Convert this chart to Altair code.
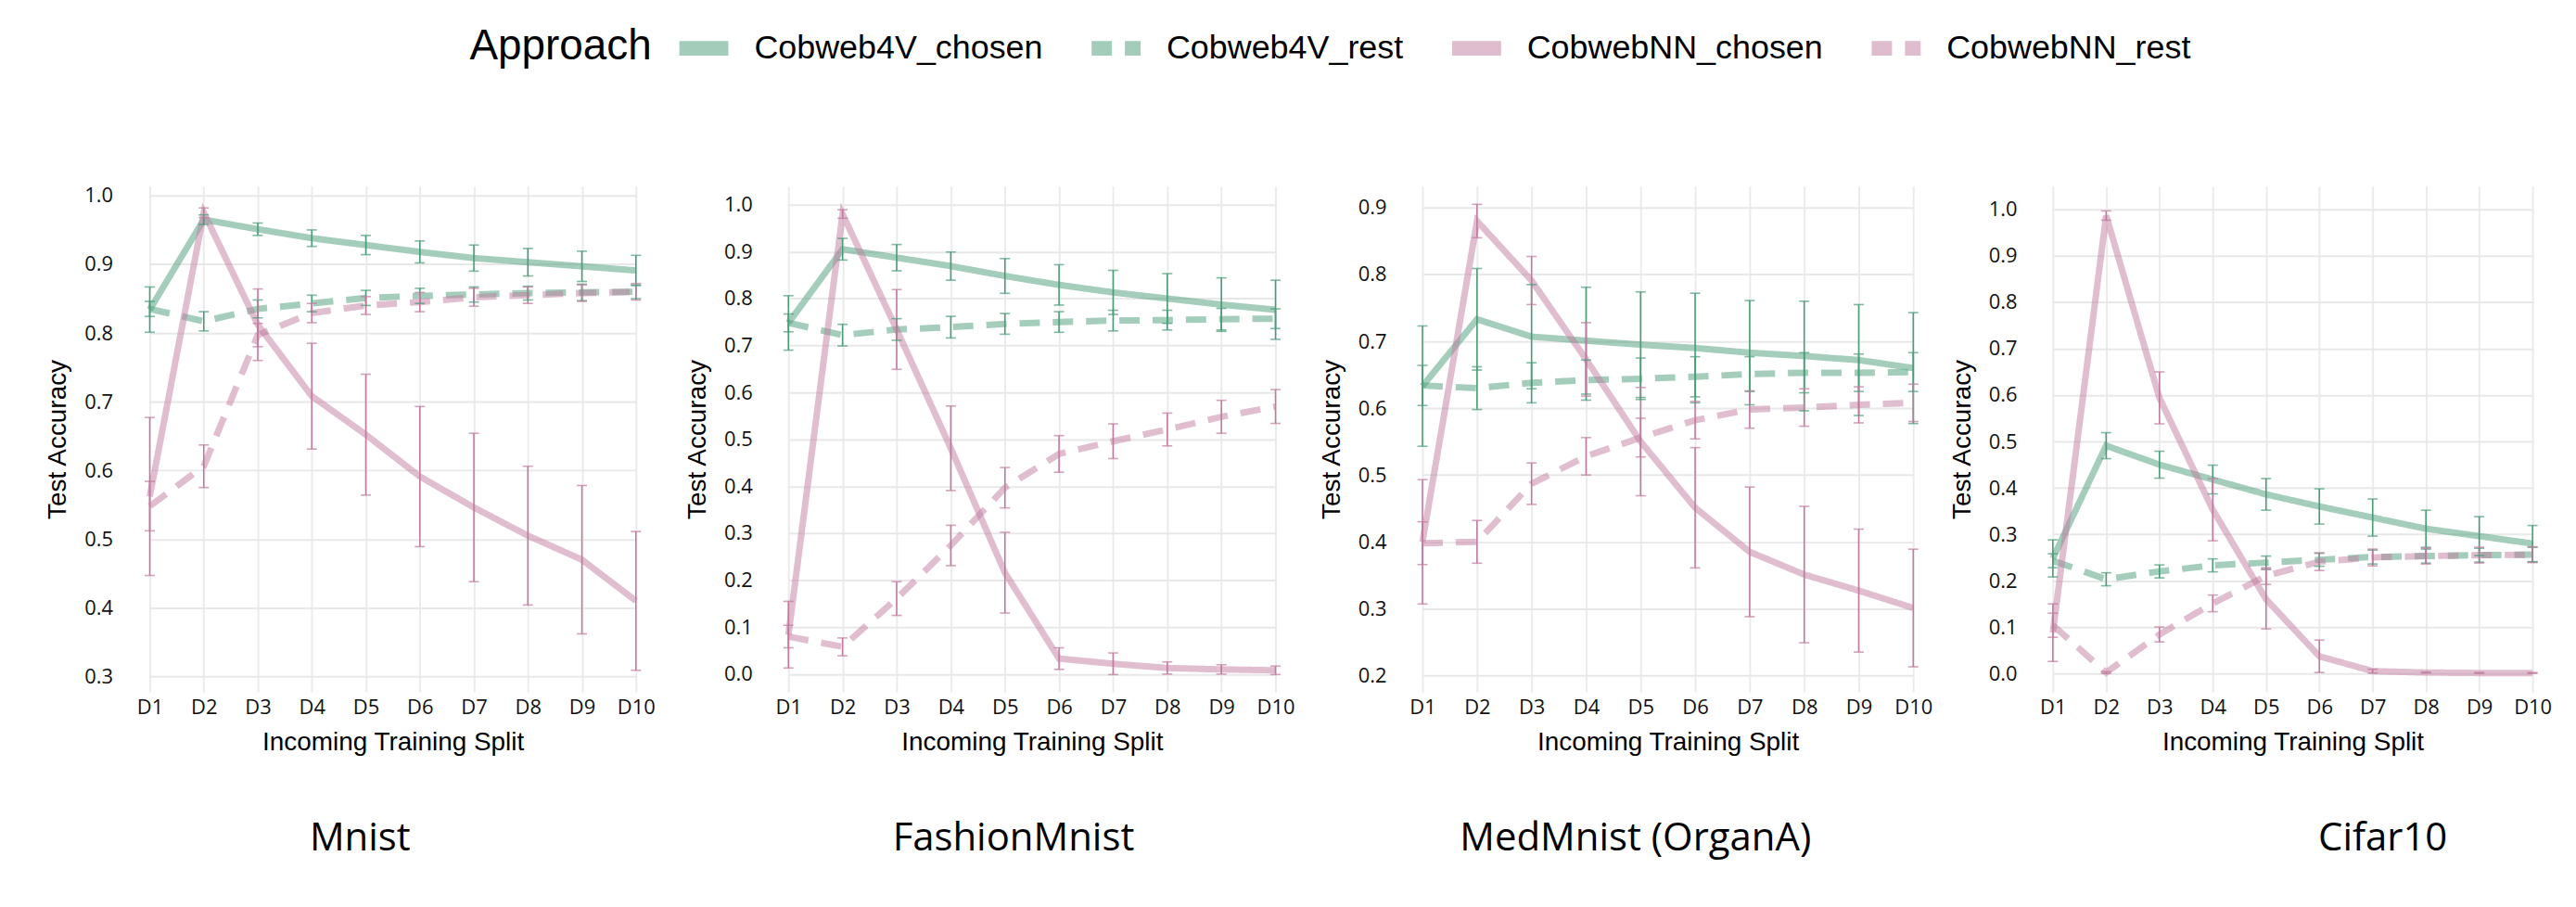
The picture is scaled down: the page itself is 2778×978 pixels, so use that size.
import altair as alt
import pandas as pd

splits = ["D1", "D2", "D3", "D4", "D5", "D6", "D7", "D8", "D9", "D10"]
approaches = ["Cobweb4V_chosen", "Cobweb4V_rest", "CobwebNN_chosen", "CobwebNN_rest"]
datasets = ["Mnist", "FashionMnist", "MedMnist (OrganA)", "Cifar10"]

# ---- Mnist ----
mnist_c4_chosen = [0.834, 0.965, 0.951, 0.938, 0.928, 0.918, 0.909, 0.903, 0.897, 0.891]
mnist_c4_chosen_err = [0.033, 0.007, 0.009, 0.012, 0.014, 0.016, 0.019, 0.020, 0.022, 0.022]
mnist_c4_rest = [0.835, 0.817, 0.835, 0.843, 0.851, 0.854, 0.856, 0.858, 0.859, 0.860]
mnist_c4_rest_err = [0.011, 0.014, 0.013, 0.012, 0.011, 0.011, 0.011, 0.010, 0.012, 0.010]
mnist_nn_chosen = [0.562, 0.975, 0.812, 0.708, 0.652, 0.591, 0.546, 0.505, 0.470, 0.410]
mnist_nn_chosen_err = [0.115, 0.007, 0.052, 0.077, 0.088, 0.102, 0.108, 0.101, 0.108, 0.101]
mnist_nn_rest = [0.548, 0.606, 0.797, 0.829, 0.840, 0.845, 0.852, 0.855, 0.858, 0.860]
mnist_nn_rest_err = [0.036, 0.031, 0.017, 0.014, 0.013, 0.014, 0.013, 0.012, 0.012, 0.012]

# ---- FashionMnist ----
fashion_c4_chosen = [0.748, 0.905, 0.887, 0.869, 0.848, 0.829, 0.813, 0.800, 0.787, 0.776]
fashion_c4_chosen_err = [0.058, 0.023, 0.028, 0.030, 0.037, 0.043, 0.047, 0.053, 0.057, 0.063]
fashion_c4_rest = [0.748, 0.722, 0.734, 0.739, 0.746, 0.750, 0.753, 0.754, 0.756, 0.757]
fashion_c4_rest_err = [0.019, 0.023, 0.023, 0.023, 0.022, 0.022, 0.022, 0.021, 0.023, 0.021]
fashion_nn_chosen = [0.084, 0.980, 0.734, 0.481, 0.216, 0.033, 0.022, 0.013, 0.010, 0.008]
fashion_nn_chosen_err = [0.071, 0.009, 0.085, 0.090, 0.086, 0.023, 0.023, 0.013, 0.010, 0.009]
fashion_nn_rest = [0.080, 0.058, 0.161, 0.274, 0.397, 0.469, 0.496, 0.521, 0.548, 0.570]
fashion_nn_rest_err = [0.024, 0.019, 0.036, 0.043, 0.043, 0.039, 0.037, 0.035, 0.035, 0.036]

# ---- MedMnist (OrganA) ----
med_c4_chosen = [0.633, 0.733, 0.707, 0.701, 0.695, 0.690, 0.683, 0.678, 0.672, 0.660]
med_c4_chosen_err = [0.090, 0.076, 0.078, 0.080, 0.079, 0.082, 0.078, 0.082, 0.083, 0.083]
med_c4_rest = [0.634, 0.630, 0.638, 0.642, 0.644, 0.647, 0.651, 0.653, 0.653, 0.654]
med_c4_rest_err = [0.030, 0.032, 0.030, 0.030, 0.031, 0.030, 0.026, 0.030, 0.028, 0.029]
med_nn_chosen = [0.400, 0.880, 0.791, 0.673, 0.550, 0.451, 0.385, 0.351, 0.327, 0.301]
med_nn_chosen_err = [0.093, 0.025, 0.036, 0.055, 0.081, 0.090, 0.097, 0.102, 0.092, 0.088]
med_nn_rest = [0.398, 0.400, 0.487, 0.528, 0.556, 0.582, 0.598, 0.601, 0.605, 0.608]
med_nn_rest_err = [0.032, 0.032, 0.031, 0.028, 0.029, 0.028, 0.028, 0.028, 0.027, 0.028]

# ---- Cifar10 ----
cifar_c4_chosen = [0.248, 0.491, 0.450, 0.418, 0.386, 0.360, 0.336, 0.312, 0.296, 0.280]
cifar_c4_chosen_err = [0.040, 0.028, 0.029, 0.031, 0.034, 0.038, 0.040, 0.040, 0.042, 0.039]
cifar_c4_rest = [0.243, 0.203, 0.220, 0.233, 0.239, 0.245, 0.251, 0.253, 0.255, 0.256]
cifar_c4_rest_err = [0.015, 0.014, 0.014, 0.014, 0.014, 0.014, 0.015, 0.015, 0.015, 0.016]
cifar_nn_chosen = [0.088, 0.987, 0.594, 0.353, 0.160, 0.037, 0.005, 0.002, 0.001, 0.001]
cifar_nn_chosen_err = [0.062, 0.010, 0.056, 0.067, 0.064, 0.035, 0.004, 0.001, 0.001, 0.001]
cifar_nn_rest = [0.104, 0.002, 0.084, 0.151, 0.210, 0.241, 0.250, 0.253, 0.255, 0.256]
cifar_nn_rest_err = [0.026, 0.002, 0.016, 0.018, 0.018, 0.019, 0.018, 0.017, 0.017, 0.017]

series = {
    "Mnist": [(mnist_c4_chosen, mnist_c4_chosen_err), (mnist_c4_rest, mnist_c4_rest_err),
              (mnist_nn_chosen, mnist_nn_chosen_err), (mnist_nn_rest, mnist_nn_rest_err)],
    "FashionMnist": [(fashion_c4_chosen, fashion_c4_chosen_err), (fashion_c4_rest, fashion_c4_rest_err),
                     (fashion_nn_chosen, fashion_nn_chosen_err), (fashion_nn_rest, fashion_nn_rest_err)],
    "MedMnist (OrganA)": [(med_c4_chosen, med_c4_chosen_err), (med_c4_rest, med_c4_rest_err),
                          (med_nn_chosen, med_nn_chosen_err), (med_nn_rest, med_nn_rest_err)],
    "Cifar10": [(cifar_c4_chosen, cifar_c4_chosen_err), (cifar_c4_rest, cifar_c4_rest_err),
                (cifar_nn_chosen, cifar_nn_chosen_err), (cifar_nn_rest, cifar_nn_rest_err)],
}

rows = []
for ds in datasets:
    for appr, (means, errs) in zip(approaches, series[ds]):
        for s, m, e in zip(splits, means, errs):
            rows.append({"dataset": ds, "Approach": appr, "split": s, "mean": m,
                         "lo": m - e, "hi": m + e})
df = pd.DataFrame(rows)

GREEN = "#4a9d77"
PINK = "#c27ba0"
color_scale = alt.Scale(domain=approaches, range=[GREEN, GREEN, PINK, PINK])
dash_scale = alt.Scale(domain=approaches, range=[[1, 0], [22, 14], [1, 0], [22, 14]])

legend = alt.Legend(
    orient="none", legendX=382, legendY=-184, direction="horizontal",
    title="Approach", titleOrient="left", titleFont="Liberation Sans", titleFontSize=46,
    titleFontWeight="normal", titleColor="black", titlePadding=22, titleLimit=1000,
    labelFont="Liberation Sans", labelFontSize=36, labelColor="black", labelLimit=1000,
    labelOffset=20, columnPadding=20, symbolType="stroke", symbolSize=2809,
    symbolStrokeWidth=16, symbolOpacity=0.5,
)

# panel layout: (y domain, first tick, tick count, width, x range, title dx)
panels = {
    "Mnist": ([0.2775, 1.0135], 0.30, 15, 605, [36, 562], -39),
    "FashionMnist": ([-0.038, 1.039], 0.0, 21, 599, [35, 562], -21),
    "MedMnist (OrganA)": ([0.1754, 0.932], 0.20, 15, 595, [35, 566], -32),
    "Cifar10": ([-0.0398, 1.05], 0.0, 21, 588, [35, 554], 98),
}

major = "round(datum.value*20) % 2 == 0"


def make_panel(ds):
    domain, t0, nt, w, xr, tdx = panels[ds]
    tick_vals = [round(t0 + 0.05 * i, 2) for i in range(nt)]
    d = df[df.dataset == ds]
    base = alt.Chart(d)
    x = alt.X("split:N", sort=splits, scale=alt.Scale(type="point", range=xr, padding=0),
              axis=alt.Axis(title="Incoming Training Split", labelAngle=0, labelFont="Open Sans",
                            labelFontSize=22, labelColor="#111", labelPadding=6,
                            titleFont="Liberation Sans", titleFontSize=28, titleFontWeight="normal",
                            titleColor="black", titlePadding=14, domain=False, ticks=False,
                            grid=True, gridColor="#ebebeb", gridWidth=2))
    yscale = alt.Scale(domain=domain, nice=False, zero=False)
    yaxis = alt.Axis(title="Test Accuracy", values=tick_vals,
                     labelExpr=f"{major} ? format(datum.value, '.1f') : ''",
                     labelFont="Open Sans", labelFontSize=22, labelColor="#111", labelPadding=4,
                     titleFont="Liberation Sans", titleFontSize=28, titleFontWeight="normal",
                     titleColor="black", titlePadding=14, domain=False, ticks=False, grid=True,
                     gridColor={"condition": {"test": major, "value": "#e8e8e8"}, "value": "#f3f3f3"},
                     gridWidth={"condition": {"test": major, "value": 2}, "value": 1.5})
    line = base.mark_line(strokeWidth=7, strokeOpacity=0.5).encode(
        x=x,
        y=alt.Y("mean:Q", scale=yscale, axis=yaxis),
        color=alt.Color("Approach:N", scale=color_scale, legend=legend),
        strokeDash=alt.StrokeDash("Approach:N", scale=dash_scale, legend=legend),
    )
    rule = base.mark_rule(strokeWidth=1.6).encode(
        x=x, y=alt.Y("lo:Q", scale=yscale), y2="hi:Q",
        color=alt.Color("Approach:N", scale=color_scale, legend=None),
    )
    cap_lo = base.mark_tick(size=11, thickness=1.6).encode(
        x=x, y=alt.Y("lo:Q", scale=yscale),
        color=alt.Color("Approach:N", scale=color_scale, legend=None),
    )
    cap_hi = base.mark_tick(size=11, thickness=1.6).encode(
        x=x, y=alt.Y("hi:Q", scale=yscale),
        color=alt.Color("Approach:N", scale=color_scale, legend=None),
    )
    return alt.layer(line, rule, cap_lo, cap_hi).properties(
        width=w, height=547,
        title=alt.TitleParams(ds, orient="bottom", font="Open Sans", fontSize=42,
                              fontWeight="normal", color="black", offset=69, dx=tdx,
                              anchor="middle"),
    )


chart = alt.hconcat(*[make_panel(ds) for ds in datasets], spacing=10).properties(
    padding={"left": 41, "top": 8, "right": 5, "bottom": 5},
    background="white",
).configure_view(stroke=None)

chart.save("out.html", embed_options={"renderer": "svg", "actions": False})
